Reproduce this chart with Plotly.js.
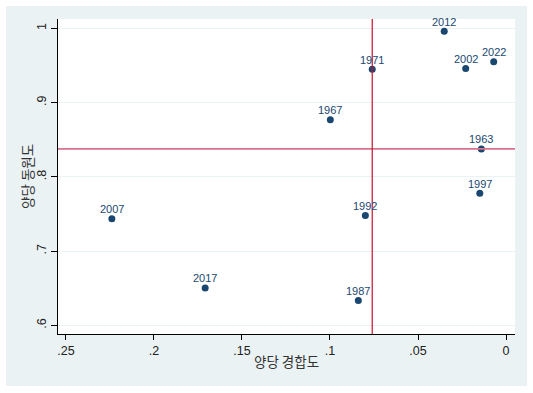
<!DOCTYPE html>
<html>
<head>
<meta charset="utf-8">
<script src="https://cdn.plot.ly/plotly-3.0.1.min.js"></script>
<style>
html,body{margin:0;padding:0;background:#ffffff;}
#chart{position:absolute;left:6px;top:6px;width:521px;height:380px;}
</style>
</head>
<body>
<div id="chart"></div>
<script>
// Election years (point labels)
const years = ["1963","1967","1971","1987","1992","1997","2002","2007","2012","2017","2022"];
// 양당 경합도 (x, axis reversed)
const competitiveness = [0.0140, 0.0998, 0.0760, 0.0839, 0.0799, 0.0149, 0.0229, 0.2239, 0.0351, 0.1709, 0.0070];
// 양당 동원도 (y)
const mobilization = [0.8376, 0.877, 0.945, 0.6334, 0.7478, 0.778, 0.946, 0.7437, 0.996, 0.6505, 0.955];
// reference lines
const xRef = 0.076;
const yRef = 0.8376;
// tick labels
const xTickVals = [0.25, 0.2, 0.15, 0.1, 0.05, 0];
const xTickText = [".25", ".2", ".15", ".1", ".05", "0"];
const yTickVals = [0.6, 0.7, 0.8, 0.9, 1];
const yTickText = [".6", ".7", ".8", ".9", "1"];
const xTitle = "양당 경합도";
const yTitle = "양당 동원도";

const navy = "#1a476f";
const font = "Liberation Sans, Arial, sans-serif";
const kfont = "Noto Sans CJK KR, Noto Sans, sans-serif";

const trace = {
  type: "scatter",
  mode: "markers",
  x: competitiveness,
  y: mobilization,
  marker: {color: navy, size: 7, line: {width: 0}},
  hoverinfo: "skip",
  cliponaxis: false
};

const pointLabels = years.map((yr, i) => ({
  text: yr, xref: "x", yref: "y", x: competitiveness[i], y: mobilization[i],
  xanchor: "center", yanchor: "bottom", yshift: 1.5, showarrow: false,
  font: {family: font, size: 11, color: navy}
}));

const layout = {
  width: 521, height: 380,
  margin: {l: 52, r: 12, t: 13, b: 52},
  paper_bgcolor: "#eaf2f3",
  plot_bgcolor: "#ffffff",
  showlegend: false,
  xaxis: {
    range: [0.2545, -0.0051],
    tickvals: xTickVals, ticktext: xTickText,
    ticks: "outside", ticklen: 5, tickcolor: "#000", tickwidth: 1,
    showline: true, linecolor: "#000", linewidth: 1,
    showgrid: false, zeroline: false,
    tickfont: {family: font, size: 12.5, color: "#222"}
  },
  yaxis: {
    range: [0.5884, 1.0125],
    tickvals: yTickVals, ticktext: yTickText,
    tickangle: -90,
    ticks: "outside", ticklen: 6, tickcolor: "#000", tickwidth: 1,
    showline: true, linecolor: "#000", linewidth: 1,
    showgrid: true, gridcolor: "#eaf2f3", gridwidth: 1,
    zeroline: false,
    tickfont: {family: font, size: 12.5, color: "#222"}
  },
  shapes: [
    {type: "line", xref: "paper", x0: 0, x1: 1, yref: "y", y0: yRef, y1: yRef,
     line: {color: "#d9728c", width: 1.6}, layer: "above"},
    {type: "line", xref: "x", x0: xRef, x1: xRef, yref: "paper", y0: 0, y1: 1,
     line: {color: "#c8102e", width: 1.2}, layer: "above"}
  ],
  annotations: pointLabels.concat([
    {text: xTitle, xref: "paper", yref: "paper", x: 0.5, y: -0.085, xanchor: "center", yanchor: "middle",
     showarrow: false, font: {family: kfont, size: 13.5, color: "#333"}},
    {text: yTitle, xref: "paper", yref: "paper", x: -0.069, y: 0.5, xanchor: "center", yanchor: "middle",
     textangle: -90, showarrow: false, font: {family: kfont, size: 13.5, color: "#333"}}
  ])
};

Plotly.newPlot("chart", [trace], layout, {staticPlot: true, displayModeBar: false});
</script>
</body>
</html>
